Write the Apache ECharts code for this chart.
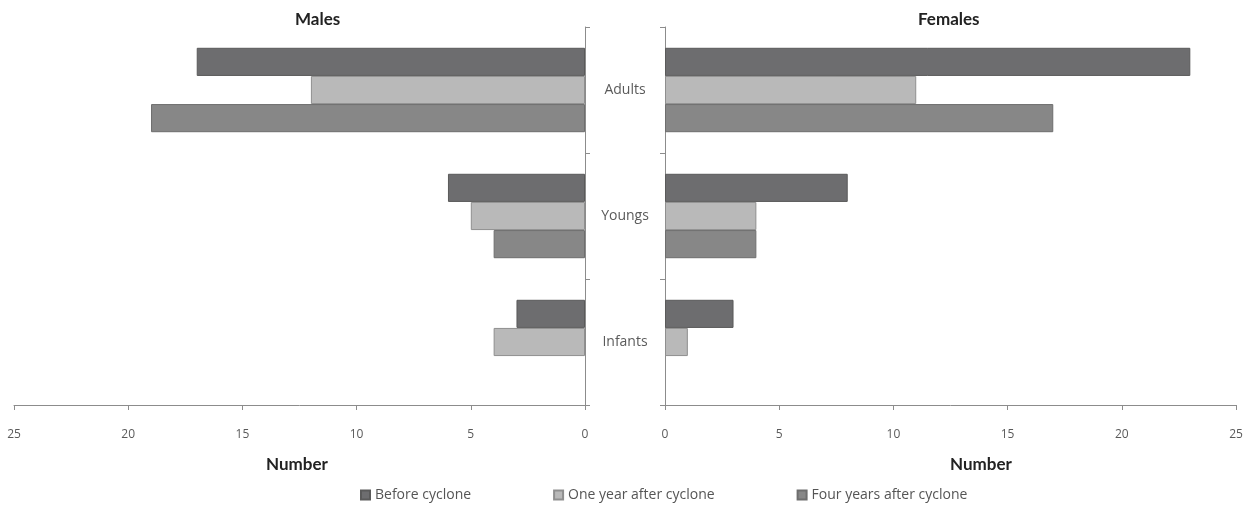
<!DOCTYPE html>
<html>
<head>
<meta charset="utf-8">
<script src="https://cdn.jsdelivr.net/npm/echarts@6/dist/echarts.min.js"></script>
<style>html,body{margin:0;padding:0;background:#fff;}#c{width:1255px;height:508px;}</style>
</head>
<body>
<div id="c"></div>
<script>
const categories = ['Adults', 'Youngs', 'Infants'];
const seriesNames = ['Before cyclone', 'One year after cyclone', 'Four years after cyclone'];
const malesBefore = [17, 6, 3];
const malesOneYear = [12, 5, 4];
const malesFourYears = [19, 4, 0];
const femalesBefore = [23, 8, 3];
const femalesOneYear = [11, 4, 1];
const femalesFourYears = [17, 4, 0];
const xTicks = [0, 5, 10, 15, 20, 25];

const colors = ['#6d6d6f', '#b9b9b9', '#878787'];
const borders = ['#5a5a5a', '#8f8f8f', '#6e6e6e'];
const chart = echarts.init(document.getElementById('c'));
const axisColor = '#8c8c8c';
const labelStyle = { color: '#5a5a5a', fontSize: 12, fontFamily: 'Open Sans' };
const headStyle = { color: '#222', fontSize: 17, fontWeight: 'bold', fontFamily: 'Lato' };

function xAxis(gridIndex, inverse) {
  return {
    type: 'value', gridIndex: gridIndex, inverse: inverse,
    min: xTicks[0], max: xTicks[xTicks.length - 1], interval: 5,
    splitLine: { show: false },
    axisLine: { show: true, lineStyle: { color: axisColor } },
    axisTick: { show: true, length: 5, lineStyle: { color: axisColor } },
    axisLabel: Object.assign({ margin: 24 }, labelStyle)
  };
}
function yAxis(gridIndex, pos, showLabel) {
  return {
    type: 'category', gridIndex: gridIndex, data: categories, inverse: true, position: pos,
    axisLine: { show: true, lineStyle: { color: axisColor } },
    axisTick: { show: true, length: 5, lineStyle: { color: axisColor } },
    axisLabel: Object.assign({}, labelStyle, { show: showLabel, align: 'center', margin: 40, fontSize: 14 })
  };
}
function bar(name, data, idx, axisIdx) {
  return {
    name: name, type: 'bar', xAxisIndex: axisIdx, yAxisIndex: axisIdx,
    data: data.map(v => ({ value: v, itemStyle: v === 0 ? { borderWidth: 0 } : {} })),
    barGap: '0%', barCategoryGap: '33%',
    itemStyle: { color: colors[idx], borderColor: borders[idx], borderWidth: 1 }
  };
}
chart.setOption({
  animation: false,
  title: [
    { text: 'Males', left: 290, top: 6, textStyle: headStyle },
    { text: 'Females', left: 913, top: 6, textStyle: headStyle },
    { text: 'Number', left: 261, top: 451, textStyle: headStyle },
    { text: 'Number', left: 945, top: 451, textStyle: headStyle }
  ],
  legend: {
    data: seriesNames, top: 483, left: 355, itemWidth: 9, itemHeight: 9, itemGap: 82,
    icon: 'rect', textStyle: { color: '#555', fontSize: 14, fontFamily: 'Open Sans' }
  },
  grid: [
    { left: 14, right: 670, top: 27, bottom: 103 },
    { left: 665, right: 19, top: 27, bottom: 103 }
  ],
  xAxis: [xAxis(0, true), xAxis(1, false)],
  yAxis: [yAxis(0, 'right', true), yAxis(1, 'left', false)],
  series: [
    bar(seriesNames[0], malesBefore, 0, 0),
    bar(seriesNames[1], malesOneYear, 1, 0),
    bar(seriesNames[2], malesFourYears, 2, 0),
    bar(seriesNames[0], femalesBefore, 0, 1),
    bar(seriesNames[1], femalesOneYear, 1, 1),
    bar(seriesNames[2], femalesFourYears, 2, 1)
  ]
});
</script>
</body>
</html>
